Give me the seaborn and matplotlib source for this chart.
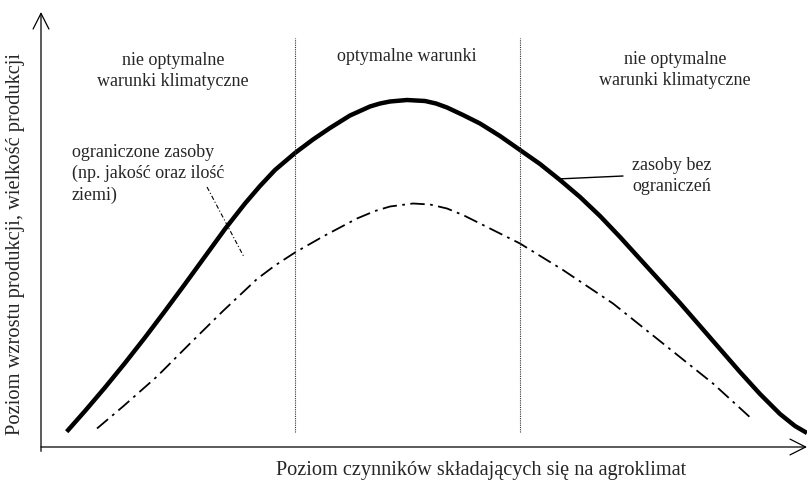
import numpy as np
import pandas as pd
import seaborn as sns
import matplotlib
matplotlib.use("Agg")
from matplotlib import pyplot as plt

# level of agroclimate factors (x) vs production level (y)
x_free = [25.7, 44, 64, 84, 104, 124, 144, 164, 184, 204, 219, 234, 254, 272,
          289, 309, 329, 339, 349, 366, 384, 395, 406, 422, 439, 459, 479, 499,
          519, 539, 559, 579, 599, 619, 639, 659, 679, 699, 719, 739, 754, 766]
y_free = [15.3, 36, 59.5, 84, 109.5, 136, 163, 190.5, 218, 243.5, 261, 277,
          294, 307.5, 319, 331.5, 340.5, 343.5, 345.5, 347, 346, 343.5, 339.5,
          332, 323.5, 311, 297, 283, 267, 250, 231, 210, 188, 166, 144, 121,
          98, 75, 53, 33, 21, 14]

x_limited = [56, 82, 116, 149, 182, 216, 234, 254, 282, 316, 334, 349, 372,
             389, 406, 422, 439, 479, 522, 572, 622, 672, 712]
y_limited = [18.5, 40.5, 70.5, 103.5, 136, 168, 181.5, 194.5, 210.5, 228.5,
             236, 240.5, 243.5, 242.5, 238.5, 232, 223.5, 203.5, 177, 143.5,
             103.5, 63.5, 27]

zone_bounds = [254, 479]
zone_labels = ["nie optymalne\nwarunki klimatyczne", "optymalne warunki",
               "nie optymalne\nwarunki klimatyczne"]

sns.set_theme(style="white")
plt.rcParams["font.family"] = ["Liberation Serif", "DejaVu Serif"]

df_free = pd.DataFrame({"x": x_free, "y": y_free})
df_limited = pd.DataFrame({"x": x_limited, "y": y_limited})

fig = plt.figure(figsize=(8.09, 4.86), dpi=100)
ax = fig.add_axes([41 / 809, 39 / 486, 766 / 809, 435 / 486])
ax.set_xlim(0, 766)
ax.set_ylim(0, 435)
ax.axis("off")

sns.lineplot(data=df_free, x="x", y="y", sort=False, estimator=None, ax=ax,
             color="black", linewidth=3.2, solid_capstyle="butt",
             solid_joinstyle="round")
sns.lineplot(data=df_limited, x="x", y="y", sort=False, estimator=None, ax=ax,
             color="black", linewidth=1.3, linestyle=(0, (8, 3, 1.5, 3)))

for xb in zone_bounds:
    ax.vlines(xb, 15, 409, color="#333333", linewidth=0.8, linestyles=(0, (1, 1)))

# axes with open arrowheads
arrow = dict(arrowstyle="->, head_length=0.75, head_width=0.38", lw=0.9,
             color="black", mutation_scale=15, shrinkA=0, shrinkB=0)
ax.annotate("", xy=(0, 1), xytext=(0, -0.01), xycoords="axes fraction",
            arrowprops=arrow, annotation_clip=False)
ax.annotate("", xy=(1, 0), xytext=(0, 0), xycoords="axes fraction",
            arrowprops=arrow, annotation_clip=False)

fs = 13
ax.text(132, 376, zone_labels[0], ha="center", va="center", fontsize=fs, linespacing=1.35)
ax.text(366, 390, zone_labels[1], ha="center", va="center", fontsize=fs)
ax.text(634, 377, zone_labels[2], ha="center", va="center", fontsize=fs, linespacing=1.35)

ax.text(31, 273, "ograniczone zasoby\n(np. jakość oraz ilość\nziemi)", ha="left",
        va="center", fontsize=fs, linespacing=1.35)
ax.plot([166, 203], [260, 190], color="black", linewidth=0.8,
        linestyle=(0, (4, 2, 1, 2)))

ax.text(631, 271, "zasoby bez\nograniczeń", ha="center", va="center",
        fontsize=fs, linespacing=1.35)
ax.plot([516, 582], [268, 271], color="black", linewidth=1.0)

fig.text(481 / 809, 1 - 470 / 486, "Poziom czynników składających się na agroklimat",
         ha="center", va="center", fontsize=14.6)
fig.text(16 / 809, 1 - 244 / 486, "Poziom wzrostu produkcji, wielkość produkcji",
         ha="center", va="center", rotation=90, fontsize=14.8)

fig.savefig("out.png", dpi=100, facecolor="white")
